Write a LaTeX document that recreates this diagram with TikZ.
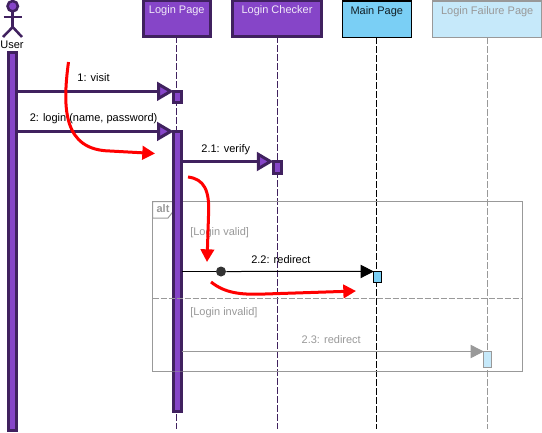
\documentclass[tikz,border=0pt]{standalone}
\usepackage{xcolor}
\usepackage{fontspec}
\setmainfont{Liberation Sans}
\usetikzlibrary{arrows.meta,positioning}
\definecolor{darkviolet}{HTML}{40215F}
\definecolor{violetfill}{HTML}{8645C8}
\definecolor{skyfill}{HTML}{7ACFF5}
\definecolor{palefill}{HTML}{C6E9FA}
\definecolor{fadegray}{HTML}{999999}
\definecolor{markred}{HTML}{FF0000}

\begin{document}
\begin{tikzpicture}[x=0.75pt,y=-0.75pt,
  font=\fontsize{8.25pt}{10pt}\selectfont,
  headbox/.style={draw, outer sep=0pt, inner sep=0pt, align=center,
    text height=9.75pt, text depth=17.25pt},
  violetbox/.style={headbox, draw=darkviolet, fill=violetfill, line width=2.25pt,
    text=white!88!violetfill},
  skybox/.style={headbox, draw=black, fill=skyfill, line width=0.75pt, text=black!85!skyfill},
  palebox/.style={headbox, draw=fadegray, fill=palefill, line width=0.75pt, text=fadegray},
  lifeline/.style={line width=0.75pt, dash pattern=on 5.25pt off 1.5pt},
  actviolet/.style={draw=darkviolet, fill=violetfill, line width=2.25pt,
    minimum width=6pt, inner sep=0pt, outer sep=0pt},
  actsky/.style={draw=black, fill=skyfill, line width=0.75pt,
    minimum width=5.5pt, inner sep=0pt, outer sep=0pt},
  actpale/.style={draw=fadegray, fill=palefill, line width=0.75pt,
    minimum width=5.5pt, inner sep=0pt, outer sep=0pt},
  msgviolet/.style={draw=darkviolet, line width=2.25pt,
    -{Triangle[length=12.5pt,width=14pt,fill=violetfill]}},
  msgblack/.style={draw=black, line width=0.75pt},
  msgblackhead/.style={msgblack, -{Triangle[length=10pt,width=10pt]}},
  msggray/.style={draw=fadegray, line width=0.75pt, -{Triangle[length=10pt,width=10pt]}},
  msgtext/.style={inner sep=0pt, text height=6pt, text depth=1.7pt},
  guardtext/.style={inner sep=0pt, anchor=west, text=fadegray},
  altline/.style={draw=fadegray, line width=0.75pt},
  redmark/.style={draw=markred, line width=2.25pt, -{Triangle[length=9.5pt,width=10pt]}},
]
\useasboundingbox (0,0) rectangle (542,432);

% head boxes
\node[violetbox, minimum width=50.5pt] (login)   at (176.8,18) {Login Page};
\node[violetbox, minimum width=66.5pt] (checker) at (277,18)   {Login Checker};
\node[skybox,    minimum width=51.5pt] (main)    at (376.8,19) {Main Page};
\node[palebox,   minimum width=81.5pt] (failure) at (487.2,19) {Login Failure Page};

\coordinate (loginend)   at (176.8,429);
\coordinate (checkerend) at (277,429);
\coordinate (mainend)    at (376.8,429);
\coordinate (failureend) at (487.2,429);
\draw[lifeline, darkviolet] (login.south)   -- (loginend);
\draw[lifeline, darkviolet] (checker.south) -- (checkerend);
\draw[lifeline, black]      (main.south)    -- (mainend);
\draw[lifeline, fadegray]   (failure.south) -- (failureend);

% actor
\node[circle, draw=darkviolet, line width=1.9pt, fill=violetfill, minimum size=7.8pt,
  inner sep=0pt, outer sep=0pt] (userhead) at (12.7,6.2) {};
\coordinate (userhip)  at (12.7,27);
\coordinate (userarml) at (3.5,17);
\coordinate (userarmr) at (21.5,17);
\coordinate (userlegl) at (3,37);
\coordinate (userlegr) at (22,37);
\draw[darkviolet, line width=1.9pt] (userhead.south) -- (userhip);
\draw[darkviolet, line width=1.9pt] (userarml) -- (userarmr);
\draw[darkviolet, line width=1.9pt] (userlegl) -- (userhip) -- (userlegr);
\node[inner sep=0pt] (user) at (12,44.5) {User};

% alt frame
\node[altline, minimum width=277.65pt, minimum height=127.35pt, inner sep=0pt, outer sep=0pt]
  (altframe) at (337.6,286.4) {};
\coordinate (altsplit) at (337.6,298.3);
\coordinate (alttabb) at (152.5,218);
\coordinate (alttabc) at (168,218);
\coordinate (alttabd) at (175,209);
\coordinate (alttabe) at (175,201.5);
\draw[altline] (altframe.north west) -- (alttabb) -- (alttabc) -- (alttabd) -- (alttabe) -- cycle;
\node[inner sep=0pt, text=fadegray, font=\fontsize{8.25pt}{10pt}\selectfont\bfseries] (alttext) at (163,209) {alt};
\node[guardtext] (validtext)   at (190,233) {[Login valid]};
\node[guardtext] (invalidtext) at (190,313) {[Login invalid]};

% activations
\node[actviolet, minimum height=283.5pt] (useract)  at (12.6,241)    {};
\node[actviolet, minimum height=8.5pt]   (visitact) at (177.7,97)    {};
\node[actviolet, minimum height=209.8pt] (loginact) at (177.7,271.3) {};
\node[actviolet, minimum height=9pt]     (checkact) at (277.5,167.5) {};
\node[actsky,    minimum height=8.6pt]   (mainact)  at (377.5,277.2) {};
\node[actpale,   minimum height=12pt]    (failact)  at (487.5,359.5) {};

\draw[altline, draw opacity=0.5] (altframe.south west) -- (altframe.south east);
\draw[altline, dash pattern=on 4.5pt off 1.5pt] (altframe.west |- altsplit) -- (altframe.east |- altsplit);

% messages
\draw[msgviolet] (useract.east |- visitact.north) --
  node[msgtext, pos=0.49, above=4.6pt] {1: visit} (visitact.north west);
\draw[msgviolet] (useract.east |- loginact.north) --
  node[msgtext, pos=0.49, above=5pt] {2: login (name, password)} (loginact.north west);
\draw[msgviolet] (loginact.east |- checkact.north) --
  node[msgtext, pos=0.48, above=3.6pt] {2.1: verify} (checkact.north west);

\node[circle, fill=black!80, minimum size=7.5pt, inner sep=0pt] (blob) at (221,271.5) {};
\draw[msgblack] (loginact.east |- blob) -- (blob);
\draw[msgblackhead] (blob) --
  node[msgtext, pos=0.37, above=3.8pt] {2.2: redirect} (mainact.north west);
\draw[msggray] (loginact.east |- failact.north) --
  node[msgtext, text=fadegray, pos=0.495, above=4.3pt] {2.3: redirect} (failact.north west);

% red marks
\coordinate (reda) at (68.5,62);
\coordinate (redb) at (155,153.5);
\coordinate (redc) at (188,177);
\coordinate (redd) at (207,262);
\coordinate (rede) at (211,282);
\coordinate (redf) at (356,291);
\draw[redmark] (reda) .. controls (62,110) and (64,150) .. (110,151) -- (redb);
\draw[redmark] (redc) .. controls (204,179) and (210,190) .. (208.5,216) -- (redd);
\draw[redmark] (rede) .. controls (225,293) and (240,295) .. (265,294) -- (redf);
\end{tikzpicture}
\end{document}
